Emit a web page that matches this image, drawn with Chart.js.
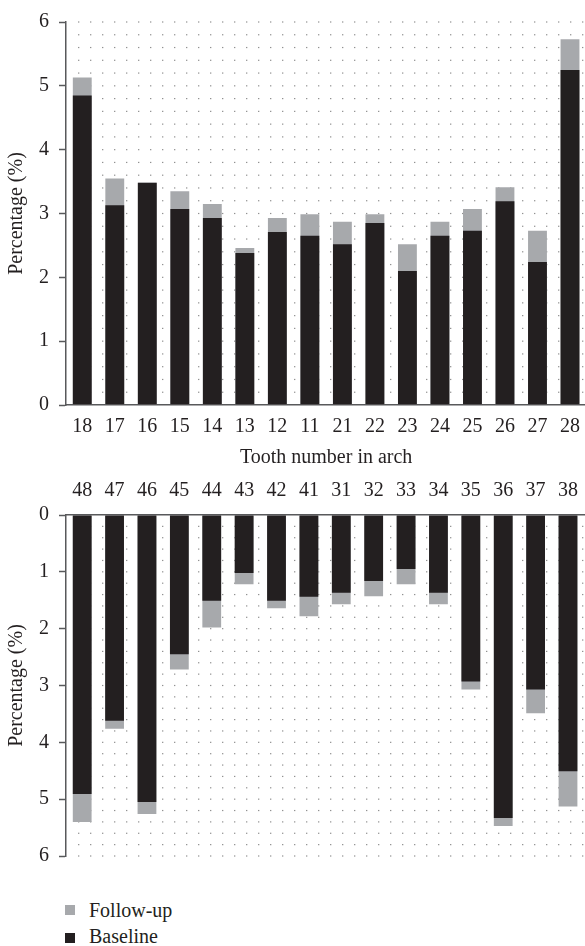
<!DOCTYPE html>
<html><head><meta charset="utf-8">
<script src="https://cdn.jsdelivr.net/npm/chart.js@4"></script>
<style>
html,body{margin:0;padding:0;background:#fff;overflow:hidden;width:585px;height:946px;position:relative;}
canvas{position:absolute;left:0;}
#c1{top:0px}
#c2{top:475px}
.leg{position:absolute;left:65px;height:24px;line-height:24px;font-size:20px;font-family:"Liberation Serif",serif;color:#231f20;white-space:nowrap;}
.sw{position:absolute;left:0;width:10px;height:10px;}
.lt{position:absolute;left:24px;top:0;}
</style></head><body>
<canvas id="c1" width="590" height="475"></canvas>
<canvas id="c2" width="590" height="403"></canvas>
<div class="leg" style="top:898px"><span class="sw" style="background:#a7a9ac;top:7px"></span><span class="lt">Follow-up</span></div>
<div class="leg" style="top:924px"><span class="sw" style="background:#231f20;top:9px"></span><span class="lt">Baseline</span></div>
<script>
const upperTeeth = ['18','17','16','15','14','13','12','11','21','22','23','24','25','26','27','28'];
const upperBaseline = [4.85,3.13,3.48,3.07,2.93,2.38,2.71,2.65,2.52,2.85,2.10,2.65,2.73,3.19,2.24,5.25];
const upperFollowUp = [5.13,3.55,3.48,3.35,3.15,2.46,2.93,2.99,2.87,2.99,2.52,2.87,3.07,3.41,2.73,5.73];

const lowerTeeth = ['48','47','46','45','44','43','42','41','31','32','33','34','35','36','37','38'];
const lowerBaseline = [4.91,3.62,5.05,2.45,1.51,1.02,1.51,1.44,1.37,1.16,0.95,1.37,2.93,5.33,3.07,4.51];
const lowerFollowUp = [5.40,3.76,5.26,2.72,1.98,1.22,1.64,1.78,1.57,1.43,1.22,1.57,3.07,5.47,3.49,5.13];

const yTicks = [0,1,2,3,4,5,6];
const xTitle = 'Tooth number in arch';
const yTitle = 'Percentage (%)';

const BLACK = '#231f20', GREY = '#a7a9ac', AXIS = '#58595b';
const FONT = {family: '"Liberation Serif", serif', size: 20};

const dotsPlugin = {
  id: 'dots',
  beforeDatasetsDraw(chart) {
    const {ctx, chartArea} = chart;
    const ys = chart.scales.y;
    ctx.save();
    ctx.fillStyle = '#858585';
    for (let k = 1; k <= 30; k++) {
      const py = ys.getPixelForValue(k / 5);
      for (let px = chartArea.left + 12.7; px < chartArea.right; px += 12) {
        ctx.fillRect(px - 0.6, py - 0.6, 1.2, 1.2);
      }
    }
    ctx.restore();
  }
};

function makeChart(id, labels, baseline, follow, isTop) {
  return new Chart(document.getElementById(id), {
    type: 'bar',
    data: {
      labels: labels,
      datasets: [
        {label: 'Baseline', data: baseline, backgroundColor: BLACK, grouped: false, barPercentage: 0.58, categoryPercentage: 1},
        {label: 'Follow-up', data: follow, backgroundColor: GREY, grouped: false, barPercentage: 0.58, categoryPercentage: 1}
      ]
    },
    options: {
      responsive: false,
      animation: false,
      events: [],
      layout: {padding: isTop ? {top: 20, left: 0, right: 0, bottom: 0} : {top: 0, left: 0, right: 0, bottom: 15}},
      plugins: {legend: {display: false}, tooltip: {enabled: false}},
      scales: {
        x: {
          position: isTop ? 'bottom' : 'top',
          offset: true,
          grid: {display: true, drawOnChartArea: false, drawTicks: false},
          border: {display: true, color: AXIS, width: 1.5},
          ticks: {font: FONT, color: BLACK, padding: isTop ? 10 : 12, maxRotation: 0, autoSkip: false},
          title: isTop ? {display: true, text: xTitle, font: FONT, color: BLACK, padding: {top: 0, bottom: 5}} : {display: false},
          afterFit: s => { s.height = isTop ? 70 : 40; }
        },
        y: {
          min: 0, max: 6,
          reverse: !isTop,
          afterBuildTicks: s => { s.ticks = yTicks.map(v => ({value: v})); },
          grid: {display: true, drawOnChartArea: false, drawTicks: true, tickLength: 7, tickColor: AXIS, tickWidth: 1.5},
          border: {display: true, color: AXIS, width: 1.5},
          ticks: {font: FONT, color: BLACK, padding: 10},
          title: {display: true, text: yTitle, font: FONT, color: BLACK, padding: {top: 5, bottom: 0}},
          afterFit: s => { s.width = 66; }
        }
      }
    },
    plugins: [dotsPlugin]
  });
}

makeChart('c1', upperTeeth, upperBaseline, upperFollowUp, true);
makeChart('c2', lowerTeeth, lowerBaseline, lowerFollowUp, false);
</script>
</body></html>
